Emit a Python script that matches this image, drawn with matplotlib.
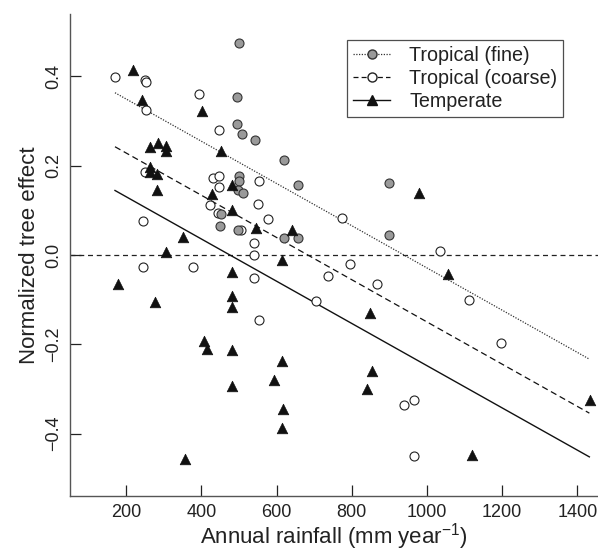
import numpy as np
import matplotlib
matplotlib.use("Agg")
import matplotlib.pyplot as plt
from matplotlib.lines import Line2D

plt.rcParams['font.family'] = ['Liberation Sans', 'DejaVu Sans']
plt.rcParams['mathtext.fontset'] = 'custom'
plt.rcParams['mathtext.rm'] = 'Liberation Sans'
plt.rcParams['mathtext.it'] = 'Liberation Sans'

# ---- data ----
fine_x = [500, 495, 495, 509, 543, 620, 657, 500, 500, 497, 510, 451, 450, 498, 620, 658, 899, 899]
fine_y = [0.476, 0.355, 0.293, 0.272, 0.257, 0.212, 0.157, 0.177, 0.166, 0.145, 0.139,
          0.091, 0.066, 0.057, 0.039, 0.037, 0.162, 0.044]

coarse_x = [171, 251, 252, 252, 394, 446, 249, 430, 446, 446, 553, 423, 550, 576, 444, 506,
            540, 245, 540, 245, 378, 540, 706, 552, 737, 1035, 796, 868, 1112, 1198, 940, 965,
            965, 775]
coarse_y = [0.399, 0.393, 0.387, 0.325, 0.360, 0.281, 0.186, 0.172, 0.178, 0.153, 0.166, 0.113,
            0.115, 0.080, 0.094, 0.057, 0.026, 0.076, 0.000, -0.027, -0.026, -0.052, -0.103,
            -0.146, -0.046, 0.009, -0.021, -0.064, -0.101, -0.198, -0.335, -0.326, -0.450, 0.084]

temp_x = [218, 243, 401, 263, 284, 305, 305, 451, 263, 262, 283, 283, 427, 481, 481, 544, 641,
          351, 305, 614, 177, 481, 276, 481, 481, 408, 414, 481, 614, 592, 481, 617, 614, 356,
          1057, 848, 853, 841, 1435, 1120, 979]
temp_y = [0.415, 0.348, 0.322, 0.243, 0.251, 0.245, 0.232, 0.232, 0.198, 0.185, 0.181, 0.145,
          0.137, 0.156, 0.100, 0.061, 0.057, 0.040, 0.006, -0.012, -0.066, -0.039, -0.106,
          -0.091, -0.117, -0.193, -0.211, -0.212, -0.237, -0.279, -0.294, -0.346, -0.387,
          -0.457, -0.043, -0.131, -0.261, -0.300, -0.324, -0.449, 0.140]

# regression fits: intercepts and common slope
fit_names = ['Tropical (fine)', 'Tropical (coarse)', 'Temperate']
fit_intercepts = [0.444, 0.323, 0.225]
fit_slope = -0.000473
fit_range = [170, 1432]

xticks = [200, 400, 600, 800, 1000, 1200, 1400]
yticks = [-0.4, -0.2, 0.0, 0.2, 0.4]
ytick_labels = ['\u22120.4', '\u22120.2', '0.0', '0.2', '0.4']

# ---- figure ----
fig = plt.figure(figsize=(5.98, 5.52), dpi=100)
ax = fig.add_axes([69.5/598, 1 - 496/552, 1 - 69.5/598, (496 - 14)/552])

ax.axhline(0, color='#222222', lw=0.9, ls=(0, (4, 3)), zorder=1)

xr = np.array(fit_range, dtype=float)
styles = [dict(ls=(0, (1, 1.2)), lw=0.9, color='#333333'),
          dict(ls=(0, (5, 3)), lw=0.9, color='#111111'),
          dict(ls='-', lw=1.0, color='#111111')]
for b, st in zip(fit_intercepts, styles):
    ax.plot(xr, b + fit_slope * xr, zorder=2, **st)

ax.scatter(coarse_x, coarse_y, s=42, facecolor='white', edgecolor='#222222', linewidths=0.8, zorder=3)
ax.scatter(fine_x, fine_y, s=42, facecolor='#9a9a9a', edgecolor='#333333', linewidths=0.8, zorder=4)
ax.scatter(temp_x, temp_y, s=58, marker='^', facecolor='#111111', edgecolor='#111111', linewidths=0.5, zorder=5)

ax.set_xlim(49, 1455)
ax.set_ylim(-0.54, 0.54)
ax.set_xticks(xticks)
ax.set_xticklabels([str(v) for v in xticks])
ax.set_yticks(yticks)
ax.set_yticklabels(ytick_labels, rotation=90, va='center')

for s in ['top', 'right']:
    ax.spines[s].set_visible(False)
for s in ['left', 'bottom']:
    ax.spines[s].set_color('#555555')
    ax.spines[s].set_linewidth(1.0)

ax.tick_params(direction='in', length=8, width=0.9, color='#222222', labelsize=13,
               labelcolor='#222222', pad=6)
ax.tick_params(axis='y', pad=5)

ax.set_xlabel('Annual rainfall (mm year$^{\u22121}$)', fontsize=16, color='#222222', labelpad=0)
ax.set_ylabel('Normalized tree effect', fontsize=16, color='#222222', labelpad=4)

handles = [
    Line2D([], [], ls=(0, (1, 1.2)), lw=0.9, color='#333333', marker='o', markersize=6.5,
           markerfacecolor='#9a9a9a', markeredgecolor='#333333'),
    Line2D([], [], ls=(0, (4, 2.5)), lw=0.9, color='#111111', marker='o', markersize=6.5,
           markerfacecolor='white', markeredgecolor='#222222'),
    Line2D([], [], ls='-', lw=1.0, color='#111111', marker='^', markersize=7.5,
           markerfacecolor='#111111', markeredgecolor='#111111'),
]
leg = ax.legend(handles, fit_names, loc='upper right', bbox_to_anchor=(0.934, 0.946),
                borderaxespad=0, fontsize=14.2, frameon=True, fancybox=False,
                handlelength=1.9, handletextpad=0.95, labelspacing=0.2, borderpad=0.3)
leg.get_frame().set_edgecolor('#222222')
leg.get_frame().set_linewidth(0.9)
for t in leg.get_texts():
    t.set_color('#222222')

fig.savefig('out.png', dpi=100)
